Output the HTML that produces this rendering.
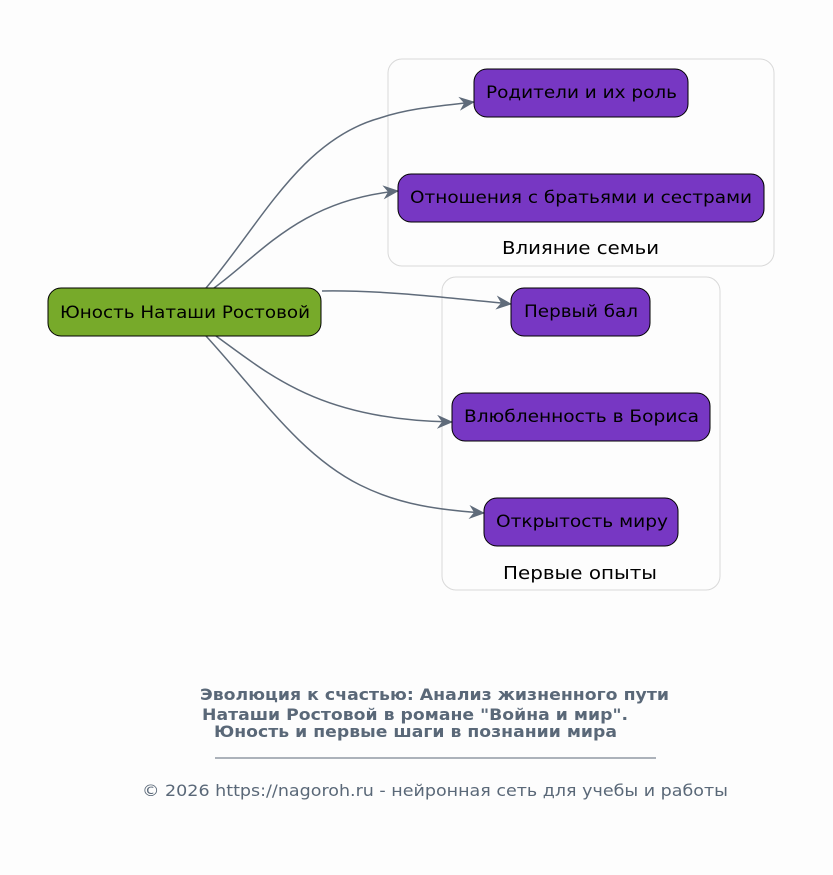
<!DOCTYPE html>
<html><head><meta charset="utf-8"><style>
html,body{margin:0;padding:0;background:#fdfdfd;}
svg{display:block;font-family:"DejaVu Sans","Liberation Sans",sans-serif;}
</style></head><body>
<svg width="833" height="875" viewBox="0 0 833 875" xmlns="http://www.w3.org/2000/svg">
<defs><marker id="a" markerWidth="16" markerHeight="14" refX="15" refY="7" orient="auto" markerUnits="userSpaceOnUse"><path d="M0,0 L16,7 L0,14 L5,7 Z" fill="#5f6b7a"/></marker></defs>
<rect width="833" height="875" fill="#fdfdfd"/>
<rect x="388" y="59" width="386" height="207" rx="14" fill="none" stroke="#d9d9d9"/>
<rect x="442" y="277" width="278" height="313" rx="14" fill="none" stroke="#d9d9d9"/>
<text x="502" y="254" font-size="18" textLength="157" lengthAdjust="spacingAndGlyphs" fill="#000">Влияние семьи</text>
<text x="503" y="579" font-size="18" textLength="154" lengthAdjust="spacingAndGlyphs" fill="#000">Первые опыты</text>
<g fill="none" stroke="#5f6b7a" stroke-width="1.5" marker-end="url(#a)">
<path d="M206,288 C260,225 300,140 380,118 C410,108 440,106 474,102"/>
<path d="M214,288 C260,255 300,200 398,191"/>
<path d="M322,291 C380,290 440,297 511,304"/>
<path d="M216,336 C270,375 320,420 452,422"/>
<path d="M206,336 C260,395 300,455 360,485 C400,505 440,510 484,513"/>
</g>
<g font-size="17" fill="#000" lengthAdjust="spacingAndGlyphs">
<rect x="48" y="288" width="273" height="48" rx="13" fill="#77aa2a" stroke="#000"/>
<text x="60" y="318" textLength="250" lengthAdjust="spacingAndGlyphs">Юность Наташи Ростовой</text>
<rect x="474" y="69" width="214" height="48" rx="13" fill="#7737c3" stroke="#000"/>
<text x="486" y="98" textLength="191" lengthAdjust="spacingAndGlyphs">Родители и их роль</text>
<rect x="398" y="174" width="366" height="48" rx="13" fill="#7737c3" stroke="#000"/>
<text x="410" y="203" textLength="342" lengthAdjust="spacingAndGlyphs">Отношения с братьями и сестрами</text>
<rect x="511" y="288" width="139" height="48" rx="13" fill="#7737c3" stroke="#000"/>
<text x="524" y="317" textLength="114" lengthAdjust="spacingAndGlyphs">Первый бал</text>
<rect x="452" y="393" width="258" height="48" rx="13" fill="#7737c3" stroke="#000"/>
<text x="464" y="422" textLength="235" lengthAdjust="spacingAndGlyphs">Влюбленность в Бориса</text>
<rect x="484" y="498" width="194" height="48" rx="13" fill="#7737c3" stroke="#000"/>
<text x="496" y="527" textLength="172" lengthAdjust="spacingAndGlyphs">Открытость миру</text>
</g>
<g fill="#5a6878" font-size="16">
<text x="200" y="700" font-weight="bold" textLength="469" lengthAdjust="spacingAndGlyphs">Эволюция к счастью: Анализ жизненного пути</text>
<text x="202" y="720" font-weight="bold" textLength="426" lengthAdjust="spacingAndGlyphs">Наташи Ростовой в романе "Война и мир".</text>
<text x="214" y="737" font-weight="bold" textLength="403" lengthAdjust="spacingAndGlyphs">Юность и первые шаги в познании мира</text>
<line x1="215" y1="758" x2="656" y2="758" stroke="#5a6878" stroke-width="1"/>
<text x="142" y="796" textLength="586" lengthAdjust="spacingAndGlyphs">© 2026 https://nagoroh.ru - нейронная сеть для учебы и работы</text>
</g>
</svg>
</body></html>
